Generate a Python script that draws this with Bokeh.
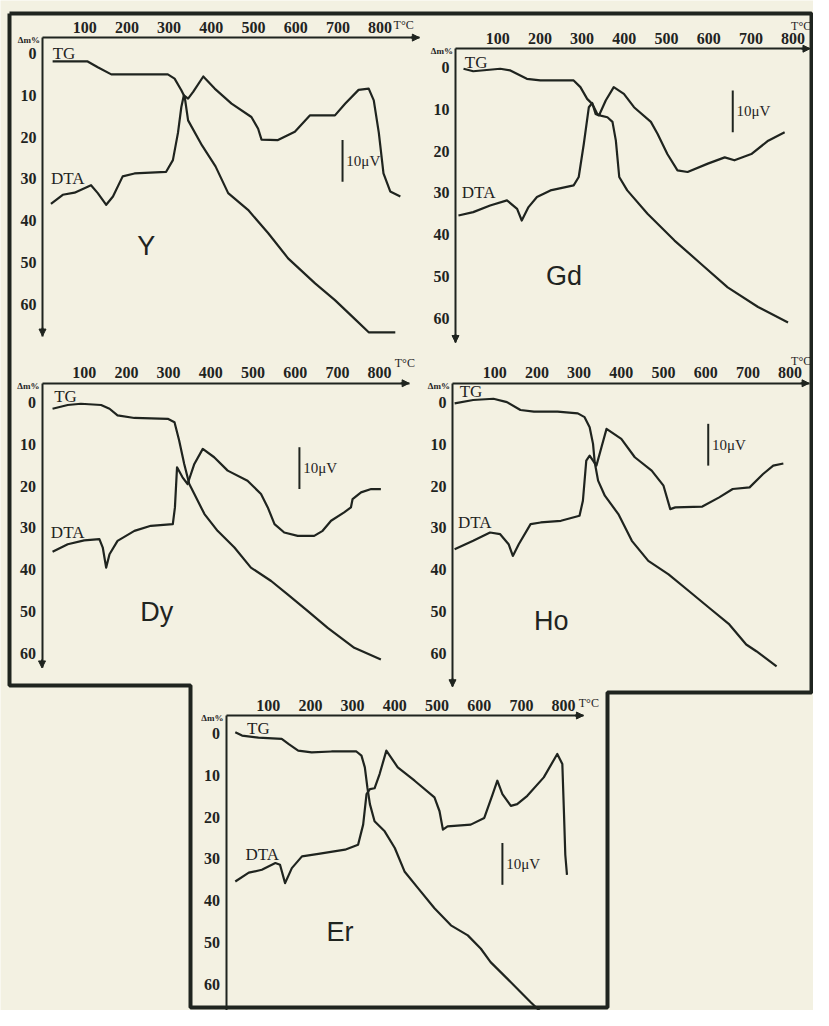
from bokeh.plotting import figure
from bokeh.models import Range1d, LinearAxis, FixedTicker, Arrow, NormalHead
from bokeh.core.properties import value
from bokeh.embed import file_html
from bokeh.resources import INLINE

# ---------------- data (temperature in °C, TG in Δm %, DTA in chart units) -------------
X_TICKS = [100, 200, 300, 400, 500, 600, 700, 800]
Y_TICKS = [0, 10, 20, 30, 40, 50, 60]
ELEMENTS = ["Y", "Gd", "Dy", "Ho", "Er"]

y_tg_t = [24, 107, 131, 163, 217, 297, 313, 329, 337, 345, 378, 410, 440, 487, 535, 582, 646, 693, 741, 773, 836]
y_tg_dm = [1.9, 1.9, 3.3, 5.0, 5.0, 5.0, 6.0, 8.8, 10.4, 16, 22, 27, 33.4, 37.4, 43, 49, 55, 59, 63.6, 66.7, 66.7]
y_dta_t = [20, 48, 76, 115, 131, 151, 167, 190, 218, 293, 309, 321, 329, 335, 345, 357, 381, 408, 448, 495, 511, 519,
           558, 598, 634, 662, 693, 717, 749, 773, 785, 797, 808, 824, 848]
y_dta_v = [36, 33.8, 33.3, 31.5, 33.4, 36.2, 34.2, 29.4, 28.7, 28.3, 25.5, 19, 12.8, 10, 10.8, 9.2, 5.5, 8.4, 12, 15.2,
           18, 20.6, 20.7, 18.7, 14.8, 14.8, 14.8, 12, 8.7, 8.4, 11.2, 19, 28.7, 33, 34.2]

gd_tg_t = [19, 42, 106, 130, 169, 201, 280, 296, 312, 324, 336, 344, 360, 372, 380, 388, 407, 455, 519, 582, 645, 717, 788]
gd_tg_dm = [0.3, 0.9, 0.3, 0.7, 2.7, 3.1, 3.1, 4.7, 7.5, 8.7, 11.1, 11.5, 11.9, 13, 17.5, 26.2, 29.4, 35, 41.4, 47, 52.6,
            57.3, 61]
gd_dta_t = [7, 42, 82, 122, 146, 157, 173, 193, 225, 280, 292, 304, 316, 324, 332, 340, 356, 375, 399, 423, 463, 479,
            502, 526, 550, 598, 638, 661, 701, 741, 780]
gd_dta_v = [35.4, 34.6, 33, 31.8, 33.8, 36.6, 33.4, 31, 29.4, 28.2, 26.2, 18.3, 9.5, 8.5, 11.1, 11.5, 7.9, 4.7, 6.3, 9.5,
            13, 15.9, 20.7, 24.6, 25, 23, 21.5, 22.2, 20.7, 17.5, 15.5]

dy_tg_t = [25, 61, 92, 140, 160, 179, 219, 298, 314, 325, 337, 349, 361, 385, 416, 456, 495, 543, 582, 630, 677, 740, 803]
dy_tg_dm = [1.5, 0.6, 0.3, 0.6, 1.5, 3.1, 3.7, 3.9, 4.7, 9.1, 14.7, 19.5, 21.9, 26.7, 30.7, 34.7, 39.5, 42.7, 45.9, 49.9,
            53.9, 58.7, 61.5]
dy_dta_t = [25, 61, 100, 136, 144, 152, 160, 179, 219, 258, 310, 315, 320, 333, 345, 361, 381, 408, 440, 487, 519, 535,
            551, 574, 606, 645, 665, 685, 716, 732, 736, 756, 780, 803]
dy_dta_v = [35.7, 33.9, 33, 32.7, 34.7, 39.5, 36.3, 33.1, 30.7, 29.5, 29.1, 25.1, 15.5, 17.9, 19.5, 14.7, 11.1, 13.1,
            16.3, 18.7, 21.9, 25.1, 29.1, 31.1, 31.9, 31.9, 30.7, 28.3, 26.3, 25.1, 23.1, 21.5, 20.7, 20.7]

ho_tg_t = [5, 49, 97, 129, 161, 193, 249, 297, 313, 325, 333, 337, 345, 361, 393, 425, 464, 512, 560, 608, 656, 696, 720,
           768]
ho_tg_dm = [0.2, -0.6, -0.9, -0.1, 1.8, 2.2, 2.2, 2.6, 3.5, 5.9, 9.9, 14.3, 18.7, 22.3, 26.7, 33.1, 37.9, 41.1, 45.1,
            49.1, 53.1, 57.9, 59.5, 63.1]
ho_dta_t = [5, 49, 89, 113, 133, 143, 157, 185, 209, 257, 301, 309, 317, 325, 333, 341, 353, 365, 400, 432, 472, 500,
            516, 528, 592, 632, 664, 704, 736, 760, 784]
ho_dta_v = [35.1, 33.1, 31.1, 31.5, 33.9, 36.7, 33.9, 29.1, 28.7, 28.3, 27.1, 23.5, 13.9, 12.7, 13.9, 15.1, 10.7, 6.3,
            8.7, 13.1, 16.3, 19.9, 25.5, 25.1, 24.9, 22.7, 20.7, 20.3, 17.1, 15.1, 14.6]

er_tg_t = [22, 38, 77, 132, 148, 171, 203, 250, 309, 321, 329, 335, 341, 352, 376, 400, 423, 455, 494, 533, 573, 604,
           627, 675, 722, 773]
er_tg_dm = [-0.3, 0.5, 1.0, 1.3, 2.5, 4.1, 4.5, 4.3, 4.3, 5.3, 8.1, 12.9, 16.9, 21, 23.4, 27.4, 33, 37, 41.8, 45.9,
            48.3, 51.5, 54.7, 59.5, 64.3, 69.2]
er_dta_t = [22, 54, 85, 117, 128, 140, 156, 180, 219, 282, 313, 325, 333, 341, 352, 364, 380, 407, 447, 494, 506, 514,
            525, 580, 612, 632, 643, 655, 675, 690, 714, 753, 785, 797, 801, 804, 808]
er_dta_v = [35.4, 33.3, 32.6, 31, 31.4, 35.8, 32.2, 29.4, 28.8, 27.8, 26.6, 21.8, 14.5, 13.3, 13.1, 9.7, 4.1, 8.1,
            11.3, 15.3, 18.6, 23, 22.2, 21.8, 20.2, 14.5, 11.3, 14.5, 17.3, 16.9, 14.9, 10.5, 4.9, 7.3, 19.4, 29, 33.8]

# 10 µV scale bar: temperature position and upper end (length = 10 units)
SCALE_BAR_T = [711, 657, 610, 606, 655]
SCALE_BAR_TOP = [20.7, 5.5, 10.7, 5.1, 26.2]
SCALE_BAR_LEN = 10

SERIES = {
    "Y": (y_tg_t, y_tg_dm, y_dta_t, y_dta_v),
    "Gd": (gd_tg_t, gd_tg_dm, gd_dta_t, gd_dta_v),
    "Dy": (dy_tg_t, dy_tg_dm, dy_dta_t, dy_dta_v),
    "Ho": (ho_tg_t, ho_tg_dm, ho_dta_t, ho_dta_v),
    "Er": (er_tg_t, er_tg_dm, er_dta_t, er_dta_v),
}

# ---------------- layout / style ----------------
W, H = 813, 1010
SX = 0.422       # px per °C
SY = 4.18        # px per % Δm
INK = "#1f241f"
PAPER = "#f3f1e2"

# origin (0 °C, 0 %) in canvas pixels, axis extents, label anchors (data units)
LAYOUT = {
    "Y":  dict(origin=(42, 53), top=-3.8, bottom=67.6, xend=893,
               tg=(24, 0), dta=(20, 30), el=(246, 46), tc=(832, -6.9), tc_align="left"),
    "Gd": dict(origin=(455, 67), top=-4.5, bottom=65.8, xend=840,
               tg=(22, -1.3), dta=(15, 29.8), el=(257, 49.8), tc=(843, -10.0), tc_align="right"),
    "Dy": dict(origin=(41.5, 402), top=-4.6, bottom=63.5, xend=870,
               tg=(29, -1.4), dta=(21, 31), el=(272, 50), tc=(836, -9.5), tc_align="left"),
    "Ho": dict(origin=(452, 402), top=-4.6, bottom=68, xend=845,
               tg=(17, -2.6), dta=(13, 28.6), el=(234, 52.3), tc=(850, -10.0), tc_align="right"),
    "Er": dict(origin=(225.5, 733), top=-4.3, bottom=68.5, xend=847,
               tg=(50, -1.1), dta=(46, 29), el=(270, 47.5), tc=(836, -7.2), tc_align="left"),
}

p = figure(width=W, height=H, output_backend="svg", toolbar_location=None,
           x_axis_location=None, y_axis_location=None,
           x_range=Range1d(0, W), y_range=Range1d(H, 0),
           min_border=0, outline_line_color=None,
           background_fill_color=PAPER, border_fill_color=PAPER)
p.grid.visible = False

xrs, yrs = {}, {}
for name in ELEMENTS:
    ox, oy = LAYOUT[name]["origin"]
    xrs["x" + name] = Range1d(-ox / SX, (W - ox) / SX)
    yrs["y" + name] = Range1d((H - oy) / SY, -oy / SY)
p.extra_x_ranges = xrs
p.extra_y_ranges = yrs

# outer frame (T shape) in canvas pixels
fx0, fy0 = 9, 13
fx1 = W - 2
mid_left_y = 685
er_x0, er_x1 = 190, 607
er_y1 = H - 3
mid_right_y = 692
p.line([fx0, fx0, er_x0, er_x0, er_x1, er_x1, fx1, fx1, fx0],
       [fy0, mid_left_y, mid_left_y, er_y1, er_y1, mid_right_y, mid_right_y, fy0, fy0],
       line_color=INK, line_width=4)

serif = value("Liberation Serif")
for i, name in enumerate(ELEMENTS):
    L = LAYOUT[name]
    xn, yn = "x" + name, "y" + name
    kw = dict(x_range_name=xn, y_range_name=yn)
    tg_t, tg_dm, dta_t, dta_v = SERIES[name]

    p.line(tg_t, tg_dm, line_color=INK, line_width=2.2, line_join="round", **kw)
    p.line(dta_t, dta_v, line_color=INK, line_width=2.2, line_join="round", **kw)

    # axes
    xa = LinearAxis(fixed_location=L["top"], bounds=(0, L["xend"]), ticker=FixedTicker(ticks=X_TICKS), **kw)
    ya = LinearAxis(fixed_location=0, bounds=(L["top"], L["bottom"]), ticker=FixedTicker(ticks=Y_TICKS), **kw)
    for ax, standoff in ((xa, 5), (ya, 6)):
        ax.axis_line_color = INK
        ax.axis_line_width = 2
        ax.major_tick_line_color = None
        ax.minor_tick_line_color = None
        ax.major_tick_in = 0
        ax.major_tick_out = 0
        ax.major_label_text_font = "Liberation Serif"
        ax.major_label_text_font_style = "bold"
        ax.major_label_text_font_size = "16px"
        ax.major_label_text_color = INK
        ax.major_label_standoff = standoff
    p.add_layout(xa, "above")
    p.add_layout(ya, "left")

    # arrow heads on axis ends
    head = dict(size=7, fill_color=INK, line_color=INK)
    p.add_layout(Arrow(end=NormalHead(**head), x_start=L["xend"] - 20, y_start=L["top"],
                       x_end=L["xend"], y_end=L["top"], line_color=INK, line_width=2, **kw))
    p.add_layout(Arrow(end=NormalHead(**head), x_start=0, y_start=L["bottom"] - 2,
                       x_end=0, y_end=L["bottom"], line_color=INK, line_width=2, **kw))

    # axis unit labels
    p.text([-6], [L["top"] + 0.6], text=["Δm%"], text_font=serif, text_font_style="bold",
           text_font_size="9px", text_align="right", text_baseline="middle", text_color=INK, **kw)
    p.text([L["tc"][0]], [L["tc"][1]], text=["T°C"], text_font=serif,
           text_font_size="12px", text_align=L["tc_align"], text_baseline="middle", text_color=INK, **kw)

    # curve labels
    p.text([L["tg"][0], L["dta"][0]], [L["tg"][1], L["dta"][1]], text=["TG", "DTA"], text_font=serif,
           text_font_size="17px", text_align="left", text_baseline="middle", text_color=INK, **kw)
    p.text([L["el"][0]], [L["el"][1]], text=[name], text_font=value("Liberation Sans"),
           text_font_size="27px", text_align="center", text_baseline="middle", text_color=INK, **kw)

    # 10 µV scale bar
    bt, btop = SCALE_BAR_T[i], SCALE_BAR_TOP[i]
    p.segment([bt], [btop], [bt], [btop + SCALE_BAR_LEN], line_color=INK, line_width=2, **kw)
    p.text([bt + 9], [btop + SCALE_BAR_LEN / 2], text=["10μV"], text_font=serif,
           text_font_size="15px", text_align="left", text_baseline="middle", text_color=INK, **kw)

open("out.html", "w").write(file_html(p, INLINE))
